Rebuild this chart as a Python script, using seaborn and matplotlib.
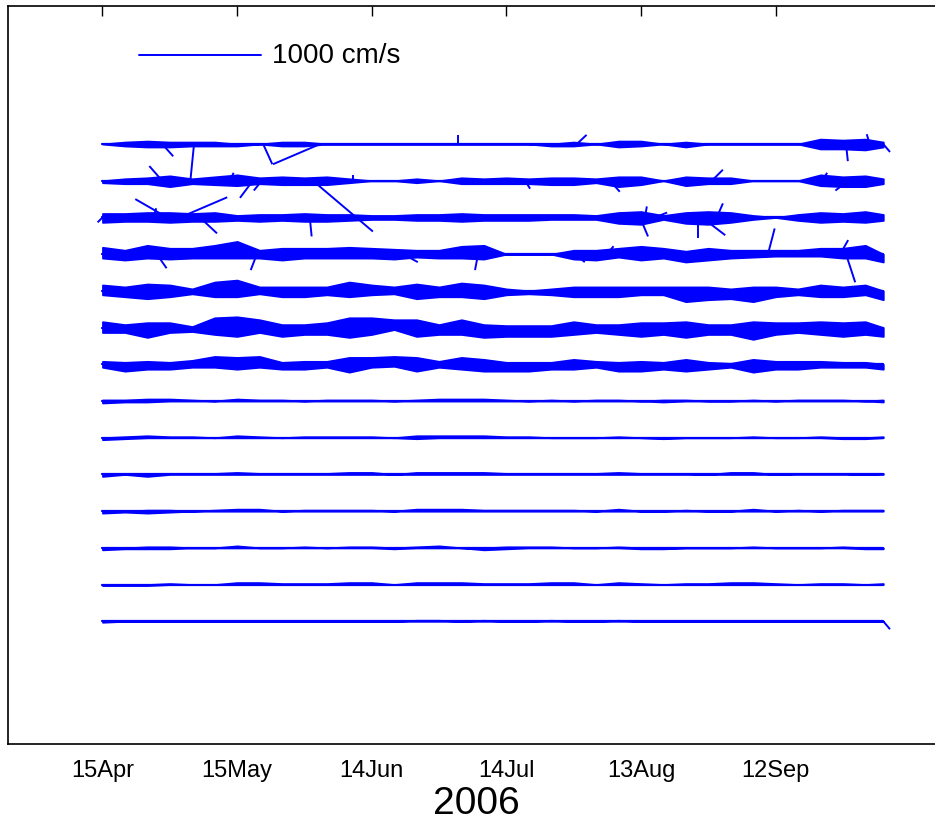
import matplotlib
matplotlib.use("Agg")
import matplotlib.pyplot as plt
import matplotlib.dates as mdates
from matplotlib.collections import LineCollection
import numpy as np
import pandas as pd
import seaborn as sns
from datetime import datetime

# ------------------------------------------------------------------ data
year_label = "2006"
tick_dates = ["2006-04-15", "2006-05-15", "2006-06-14", "2006-07-14", "2006-08-13", "2006-09-12"]
tick_labels = ["15Apr", "15May", "14Jun", "14Jul", "13Aug", "12Sep"]
record_start = "2006-04-15"
record_days = 174                 # record length (days)
scale_speed = 1000                # cm/s, length of the scale bar
scale_label = "1000 cm/s"
row_spacing = 300                 # cm/s offset between successive depth rows

# days (from record start) at which the band half-widths were read
env_days = [0, 5, 10, 15, 20, 25, 30, 35, 40, 45, 50, 55, 60, 65, 70, 75, 80, 85,
            90, 95, 100, 105, 110, 115, 120, 125, 130, 135, 140, 145, 150, 155, 160, 165, 170, 174]

# extent (cm/s) of the dense stick cloud above / below each row's axis
band_up_1 = [0,16,24,16,16,16,0,0,16,16,0,0,0,0,0,0,0,0,0,0,0,16,0,24,24,0,16,0,0,0,0,0,40,32,40,16]
band_dn_1 = [0,16,24,24,16,16,16,0,16,16,0,0,0,0,0,0,0,0,0,0,16,16,0,24,16,0,24,0,0,0,0,0,40,40,48,24]
band_up_2 = [0,16,24,40,16,32,48,24,32,24,32,16,0,0,16,0,24,16,24,16,24,24,16,32,32,0,32,24,24,0,0,0,48,32,40,16]
band_dn_2 = [16,24,24,48,24,32,40,24,32,32,32,16,0,0,16,0,24,24,24,24,32,32,16,48,32,0,40,24,24,0,0,0,40,48,48,24]
band_up_3 = [32,32,40,40,32,40,16,24,24,32,24,24,16,16,24,24,32,24,24,24,24,24,16,40,48,16,40,48,40,16,0,24,40,32,48,24]
band_dn_3 = [40,32,32,40,32,32,24,32,24,32,32,24,16,16,24,24,32,24,24,24,16,16,16,48,56,16,48,56,40,16,0,24,40,32,40,24]
band_up_4 = [56,32,72,48,48,72,104,32,48,48,48,56,48,40,32,32,64,72,0,0,0,32,32,48,64,48,24,48,32,32,32,32,48,48,72,0]
band_dn_4 = [32,48,32,40,32,32,32,32,48,32,32,32,32,40,24,32,32,40,0,0,0,40,48,24,48,32,64,48,32,24,16,16,16,32,32,64]
band_up_5 = [48,32,56,48,16,72,88,32,32,32,32,72,48,32,56,32,64,48,16,0,16,32,32,32,32,32,32,32,16,32,32,16,48,32,48,0]
band_dn_5 = [32,48,64,48,24,48,48,24,48,48,32,48,32,24,64,48,48,64,32,24,32,48,48,48,32,32,88,72,64,88,48,32,48,48,32,72]
band_up_6 = [48,24,40,40,8,80,88,64,24,24,40,80,80,64,64,24,64,24,16,16,16,48,24,24,40,40,48,24,24,48,40,40,48,40,48,0]
band_dn_6 = [40,40,80,40,32,56,72,40,72,56,56,80,56,16,72,56,56,80,72,72,72,56,40,56,72,56,80,56,56,96,56,40,56,72,56,72]
band_up_7 = [24,16,24,16,32,64,56,64,16,24,24,56,56,64,56,24,56,40,16,16,16,40,24,16,24,16,40,16,8,40,24,24,24,16,16,0]
band_dn_7 = [24,56,40,40,24,24,40,24,40,40,24,64,24,16,56,24,40,56,56,56,40,40,24,56,56,40,56,40,24,64,40,40,24,24,24,40]
band_up_8 = [8,8,16,16,8,0,16,8,8,0,8,8,8,0,8,16,16,16,8,0,8,0,8,8,0,8,8,0,0,8,0,8,8,8,0,8]
band_dn_8 = [16,8,8,0,0,0,0,0,0,0,0,0,0,0,0,0,0,0,0,0,0,0,0,0,0,8,0,0,0,0,0,0,0,0,0,8]
band_up_9 = [0,8,16,8,8,0,16,8,0,8,8,8,8,0,16,16,16,16,8,8,0,0,0,8,0,0,0,0,0,8,0,0,8,0,0,8]
band_dn_9 = [16,8,0,0,0,0,0,0,0,0,0,0,0,0,8,0,0,0,0,0,0,0,0,0,0,8,0,0,0,0,0,0,0,8,8,0]
band_up_10 = [0,0,8,8,8,8,16,8,8,8,8,16,16,0,16,16,16,16,8,8,8,8,8,16,8,8,8,0,16,16,0,8,8,8,0,8]
band_dn_10 = [16,0,16,0,0,0,0,0,0,0,0,0,0,0,0,0,0,0,0,0,0,0,0,0,0,0,0,0,0,0,0,0,0,0,0,0]
band_up_11 = [0,0,8,8,0,8,16,16,0,8,8,8,8,0,16,16,16,8,8,8,8,8,0,16,0,0,8,0,0,16,0,8,0,8,8,8]
band_dn_11 = [16,8,16,8,0,0,0,0,0,0,0,0,0,0,0,0,0,0,0,0,0,0,0,0,0,0,0,0,0,0,0,0,0,0,0,0]
band_up_12 = [0,0,8,8,0,0,16,0,0,8,0,8,8,0,8,16,0,0,8,8,8,0,0,8,0,0,0,0,0,8,0,0,0,8,0,0]
band_dn_12 = [16,8,8,8,0,0,0,0,0,0,0,0,0,8,0,0,0,16,8,0,0,0,0,0,8,8,0,0,0,0,0,0,0,0,8,8]
band_up_13 = [0,0,0,8,0,0,16,16,8,8,8,16,16,0,16,16,16,8,8,8,16,16,0,16,8,0,8,8,16,16,8,0,8,8,0,8]
band_dn_13 = [8,8,8,0,0,0,0,0,0,0,0,0,0,0,0,0,0,0,0,0,0,0,0,0,0,0,0,0,0,0,0,0,0,0,0,0]
band_up_14 = [0,0,0,0,0,0,0,0,0,0,0,0,0,0,8,8,0,8,0,0,8,0,0,8,0,0,0,0,0,0,0,0,0,0,0,0]
band_dn_14 = [8,0,0,0,0,0,0,0,0,0,0,0,0,0,0,0,0,0,0,0,0,0,0,0,0,0,0,0,0,0,0,0,0,0,0,0]

# individual large velocity sticks: (day from record start, u east cm/s, v north cm/s)
sticks_1 = [(13.3, 90, -100), (20.4, -30, -300), (35.8, 75, -165), (48.5, -385, -165),
            (79.2, 0, 75), (105.7, 80, 75), (165.7, 15, -140), (171.0, -25, 80), (174.0, 55, -65)]
sticks_2 = [(13.3, -105, 120), (28.4, 30, 65), (33.5, -105, -140), (35.5, -65, -80),
            (46.9, 490, -415), (55.8, 0, 50), (94.2, 40, -65), (113.1, 80, -90),
            (135.8, 90, 90), (160.4, 40, 65), (166.2, -105, -80)]
sticks_3 = [(0.0, -40, -40), (11.3, 25, 75), (14.4, -260, 150), (17.3, 385, 165),
            (21.7, 140, -130), (46.2, 15, -155), (119.8, 65, -155), (120.9, 15, 90),
            (123.1, 100, 40), (132.7, 0, -170), (133.6, 190, -145), (136.9, 50, 115)]
sticks_4 = [(12.1, 80, -115), (34.4, -50, -130), (67.0, 120, -65), (83.7, -25, -130),
            (105.3, 80, -65), (112.4, 55, 65), (148.3, 55, 210), (164.4, 65, 115), (165.7, 75, -230)]
sticks_14 = [(174.0, 55, -65)]

band_up = [band_up_1, band_up_2, band_up_3, band_up_4, band_up_5, band_up_6, band_up_7,
           band_up_8, band_up_9, band_up_10, band_up_11, band_up_12, band_up_13, band_up_14]
band_dn = [band_dn_1, band_dn_2, band_dn_3, band_dn_4, band_dn_5, band_dn_6, band_dn_7,
           band_dn_8, band_dn_9, band_dn_10, band_dn_11, band_dn_12, band_dn_13, band_dn_14]
sticks = {0: sticks_1, 1: sticks_2, 2: sticks_3, 3: sticks_4, 13: sticks_14}

# ------------------------------------------------------------------ figure
sns.set_style("white")
plt.rcParams["font.family"] = ["Liberation Sans", "DejaVu Sans"]

W, H = 935, 829
fig = plt.figure(figsize=(W / 100, H / 100), dpi=100)
ax_left, ax_right, ax_top, ax_bottom = 8, 945, 7, 745
ax = fig.add_axes([ax_left / W, (H - ax_bottom) / H, (ax_right - ax_left) / W, (ax_bottom - ax_top) / H])

t0 = mdates.date2num(datetime.strptime(record_start, "%Y-%m-%d"))
n_rows = len(band_up)
x_lo, x_hi = t0 - 21.06, t0 + 187.76
y_hi = 1128
y_lo = -(n_rows - 1) * row_spacing - 1003
ax.set_xlim(x_lo, x_hi)
ax.set_ylim(y_lo, y_hi)

# equal physical scaling of u and v: convert cm/s to days on the x axis
px_per_day = (ax_right - ax_left) / (x_hi - x_lo)
px_per_cms = (ax_bottom - ax_top) / (y_hi - y_lo)
days_per_cms = px_per_cms / px_per_day

blue = (0, 0, 1)

# axis lines of every row (seaborn)
rows_df = pd.DataFrame({
    "t": np.tile([t0, t0 + record_days], n_rows),
    "y": np.repeat([-i * row_spacing for i in range(n_rows)], 2),
    "row": np.repeat(np.arange(n_rows), 2),
})
sns.lineplot(data=rows_df, x="t", y="y", units="row", estimator=None,
             color=blue, lw=1.6, ax=ax, legend=False)

# dense stick clouds
env_t = t0 + np.array(env_days, dtype=float)
for i in range(n_rows):
    base = -i * row_spacing
    up = base + np.array(band_up[i], dtype=float)
    dn = base - np.array(band_dn[i], dtype=float)
    ax.fill_between(env_t, dn, up, color=blue, lw=1.3, edgecolor=blue)

# large sticks
segs = []
for i, lst in sticks.items():
    base = -i * row_spacing
    for d, u, v in lst:
        segs.append([(t0 + d, base), (t0 + d + u * days_per_cms, base + v)])
ax.add_collection(LineCollection(segs, colors=[blue], linewidths=1.4))

# scale bar
sb_t = t0 + 8.13
sb_y = 730
ax.plot([sb_t, sb_t + scale_speed * days_per_cms], [sb_y, sb_y], color=blue, lw=1.4)
ax.text(sb_t + scale_speed * days_per_cms + 2.3, sb_y, scale_label, fontsize=20,
        va="center", ha="left", color="black")

# axes styling
ticks = [mdates.date2num(datetime.strptime(s, "%Y-%m-%d")) for s in tick_dates]
ax.set_xticks(ticks)
ax.set_xticklabels(tick_labels)
ax.set_yticks([])
ax.tick_params(axis="x", direction="in", length=7, width=1, top=True, labeltop=False,
               labelsize=17, pad=11, colors="black")
ax.set_xlabel(year_label, fontsize=28, labelpad=3, color="black")
ax.set_ylabel("")
for s in ax.spines.values():
    s.set_color("black")
    s.set_linewidth(1.2)
    s.set_visible(True)

fig.savefig("out.png", dpi=100)
